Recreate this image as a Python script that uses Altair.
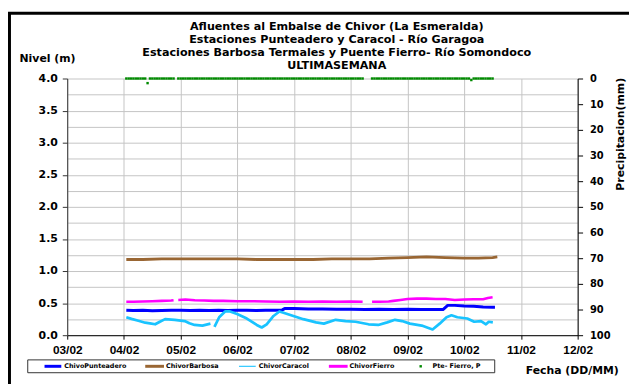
import altair as alt
import pandas as pd

# ---------------- data ----------------
DAY_TICKS = [3, 4, 5, 6, 7, 8, 9, 10, 11, 12]
LEVEL_TICKS = [0.0, 0.25, 0.5, 0.75, 1.0, 1.25, 1.5, 1.75, 2.0, 2.25, 2.5, 2.75,
               3.0, 3.25, 3.5, 3.75, 4.0]
PRECIP_TICKS = [0, 10, 20, 30, 40, 50, 60, 70, 80, 90, 100]

TITLE_LINES = [
    "Afluentes al Embalse de Chivor (La Esmeralda)",
    "Estaciones Punteadero y Caracol - Río Garagoa",
    "Estaciones Barbosa Termales y Puente Fierro- Río Somondoco",
    "ULTIMASEMANA",
]
SERIES = ["ChivoPunteadero", "ChivorBarbosa", "ChivorCaracol", "ChivorFierro"]
PRECIP_NAME = "Pte- Fierro, P"

# hours counted from 04/02 00:00
PUNT_H = [1, 4, 8, 12, 16, 20, 24, 28, 32, 36, 40, 44, 48, 52, 56, 60, 64, 67, 68,
          72, 78, 84, 90, 96, 102, 108, 114, 120, 126, 132, 135, 137, 140, 144,
          148, 152, 156, 157]
PUNT_V = [0.39, 0.385, 0.39, 0.38, 0.385, 0.39, 0.39, 0.385, 0.39, 0.385, 0.39,
          0.385, 0.39, 0.39, 0.385, 0.39, 0.39, 0.395, 0.415, 0.415, 0.41, 0.41,
          0.405, 0.405, 0.40, 0.405, 0.40, 0.405, 0.40, 0.40, 0.40, 0.465, 0.465,
          0.455, 0.45, 0.44, 0.435, 0.435]

BARB_H = [1, 8, 16, 24, 32, 40, 48, 56, 64, 72, 80, 88, 96, 104, 112, 120, 128,
          136, 144, 150, 156, 158]
BARB_V = [1.18, 1.18, 1.19, 1.19, 1.19, 1.19, 1.19, 1.18, 1.18, 1.18, 1.18, 1.19,
          1.19, 1.19, 1.20, 1.21, 1.22, 1.21, 1.20, 1.20, 1.21, 1.22]

CARA_H1 = [1, 3.2, 6.1, 9, 11, 13.2, 15.2, 17.4, 21.5, 25.7, 27.7, 29.9, 33.2, 36.6]
CARA_V1 = [0.28, 0.255, 0.225, 0.195, 0.185, 0.17, 0.21, 0.25, 0.24, 0.22, 0.185,
           0.16, 0.15, 0.18]
CARA_H2 = [38.3, 40.3, 42.8, 44.9, 47.9, 52.0, 56.2, 58.3, 60.4, 63.3, 65.8, 67.5,
           71.7, 75.9, 81.3, 84.6, 89.6, 93.8, 98.0, 103.5, 107.6, 111.4, 114.7,
           117.7, 121.0, 126.0, 130.6, 133.6, 136.5, 138.6, 141.1, 145.3, 148.2,
           151.1, 153.2, 154.4, 156.1]
CARA_V2 = [0.13, 0.28, 0.37, 0.37, 0.33, 0.26, 0.16, 0.12, 0.17, 0.30, 0.37, 0.35,
           0.30, 0.25, 0.20, 0.18, 0.24, 0.22, 0.21, 0.17, 0.16, 0.20, 0.24, 0.22,
           0.18, 0.15, 0.09, 0.18, 0.28, 0.31, 0.28, 0.26, 0.21, 0.22, 0.17, 0.21,
           0.20]

FIER_H1 = [1, 4, 8, 12, 16, 20, 21]
FIER_V1 = [0.52, 0.52, 0.525, 0.53, 0.535, 0.54, 0.545]
FIER_H2 = [23, 26, 30, 34, 38, 42, 48, 54, 60, 66, 72, 78, 84, 90, 96, 101]
FIER_V2 = [0.55, 0.555, 0.545, 0.54, 0.535, 0.535, 0.53, 0.53, 0.525, 0.52, 0.525,
           0.52, 0.525, 0.52, 0.525, 0.52]
FIER_H3 = [105, 108, 112, 114, 117, 120, 124, 128, 132, 136, 140, 144, 148, 152,
           154, 156]
FIER_V3 = [0.52, 0.52, 0.525, 0.535, 0.55, 0.565, 0.57, 0.57, 0.565, 0.565, 0.55,
           0.555, 0.56, 0.56, 0.58, 0.59]

# hourly precipitation (mm), hours 1..156 from 04/02 00:00; None = missing
PRECIP_V = [
    0, 0, 0, 0, 0, 0, 0, 0, 0, 1.8, 0, 0,
    0, 0, 0, 0, 0, 0, 0, 0, 0, None, 0, 0,
    0, 0, 0, 0, 0, 0, 0, 0, 0, 0, 0, 0,
    0, 0, 0, 0, 0, 0, 0, 0, 0, 0, 0, 0,
    0, 0, 0, 0, 0, 0, 0, 0, 0, 0, 0, 0,
    0, 0, 0, 0, 0, 0, 0, 0, 0, 0, 0, 0,
    0, 0, 0, 0, 0, 0, 0, 0, 0, 0, 0, 0,
    0, 0, 0, 0, 0, 0, 0, 0, 0, 0, 0, 0,
    0, 0, 0, 0, 0, None, None, None, 0, 0, 0, 0,
    0, 0, 0, 0, 0, 0, 0, 0, 0, 0, 0, 0,
    0, 0, 0, 0, 0, 0, 0, 0, 0, 0, 0, 0,
    0, 0, 0, 0, 0, 0, 0, 0, 0, 0, 0, 0,
    0, 0, 0.6, 0, 0, 0, 0, 0, 0, 0, 0, 0,
]

# ---------------- tables ----------------
COLORS = ["#0000ff", "#996633", "#19c3ff", "#ff00ff"]
WIDTHS = [3, 2.6, 1, 3]
segments = [
    ("ChivoPunteadero", PUNT_H, PUNT_V),
    ("ChivorBarbosa", BARB_H, BARB_V),
    ("ChivorCaracol", CARA_H1, CARA_V1),
    ("ChivorCaracol", CARA_H2, CARA_V2),
    ("ChivorFierro", FIER_H1, FIER_V1),
    ("ChivorFierro", FIER_H2, FIER_V2),
    ("ChivorFierro", FIER_H3, FIER_V3),
]
rows = []
for k, (name, hs, vs) in enumerate(segments):
    for h, v in zip(hs, vs):
        rows.append({"series": name, "seg": k, "t": 4 + h / 24.0, "v": v})
lines_df = pd.DataFrame(rows)

prows = []
for i, p in enumerate(PRECIP_V):
    if p is not None:
        prows.append({"t": 4 + (i + 1) / 24.0, "p": p})
precip_df = pd.DataFrame(prows)

FONT = "DejaVu Sans"

x_enc = alt.X(
    "t:Q",
    scale=alt.Scale(domain=[3, 12], nice=False, zero=False),
    axis=alt.Axis(
        values=DAY_TICKS,
        labelExpr="(datum.value < 10 ? '0' : '') + datum.value + '/02'",
        grid=True, gridColor="#c4c4c4", gridWidth=1,
        domainColor="#000000", tickColor="#000000", tickSize=4,
        labelFont="Liberation Sans", labelFontWeight="bold", labelFontSize=12,
        labelColor="#000000", labelBaseline="middle", labelPadding=11,
        labelFlush=False, labelOverlap=False,
        title="Fecha (DD/MM)", titleFont=FONT, titleFontWeight="bold",
        titleFontSize=11, titleColor="#000000", titleX=511, titleY=36,
        titleAlign="center", titleBaseline="middle",
    ),
)

lines = alt.Chart(lines_df).mark_line(strokeCap="butt", strokeJoin="round").encode(
    x=x_enc,
    y=alt.Y(
        "v:Q",
        scale=alt.Scale(domain=[0, 4], nice=False),
        axis=alt.Axis(
            values=LEVEL_TICKS,
            labelExpr="datum.value % 0.5 === 0 ? format(datum.value, '.1f') : ''",
            grid=True, gridColor="#c4c4c4", gridWidth=1,
            domainColor="#333333", tickColor="#333333", tickSize=5,
            tickOpacity={"condition": {"test": "datum.value % 0.5 !== 0", "value": 0}, "value": 1},
            labelFont=FONT, labelFontWeight="bold", labelFontSize=11,
            labelColor="#000000", labelPadding=5, labelOverlap=False, labelFlush=False,
            title="Nivel (m)", titleFont=FONT, titleFontWeight="bold", titleFontSize=11,
            titleColor="#000000", titleAngle=0, titleX=-20.5, titleY=-20,
            titleAlign="center", titleBaseline="middle",
        ),
    ),
    color=alt.Color("series:N", scale=alt.Scale(domain=SERIES, range=COLORS), legend=None),
    strokeWidth=alt.StrokeWidth("series:N", scale=alt.Scale(domain=SERIES, range=WIDTHS), legend=None),
    detail="seg:N",
    order="t:Q",
)

precip = alt.Chart(precip_df).mark_square(size=6, color="#008a00", opacity=1).encode(
    x=x_enc,
    y=alt.Y(
        "p:Q",
        scale=alt.Scale(domain=[0, 100], reverse=True, nice=False),
        axis=alt.Axis(
            orient="right", values=PRECIP_TICKS, grid=False,
            domainColor="#000000", tickColor="#000000", tickSize=5,
            labelFont=FONT, labelFontWeight="bold", labelFontSize=10,
            labelColor="#000000", labelPadding=7, labelOverlap=False, labelFlush=False,
            title="Precipitacion(mm)", titleFont=FONT, titleFontWeight="bold",
            titleFontSize=11, titleColor="#000000", titleAngle=270,
            titleX=43, titleY=56, titleAlign="center", titleBaseline="middle",
        ),
    ),
)

one = alt.Data(values=[{}])


def text_at(x, y, s, size, align="center", font=FONT):
    return alt.Chart(one).mark_text(
        align=align, baseline="middle", font=font, fontSize=size,
        fontWeight="bold", color="#000000",
    ).encode(x=alt.value(x), y=alt.value(y), text=alt.value(s))


def sample(x1, x2, y, color, w):
    return alt.Chart(one).mark_rule(color=color, strokeWidth=w).encode(
        x=alt.value(x1), x2=alt.value(x2), y=alt.value(y))


frame = alt.Chart(one).mark_rect(filled=False, stroke="#000000", strokeWidth=3).encode(
    x=alt.value(-58.5), x2=alt.value(640), y=alt.value(-66), y2=alt.value(420))

titles = [text_at(273, y, s, 11.3) for y, s in zip([-52, -39, -25.5, -13], TITLE_LINES)]

legend_box = alt.Chart(one).mark_rect(fill="#ffffff", stroke="#333333", strokeWidth=1).encode(
    x=alt.value(-40), x2=alt.value(433), y=alt.value(285), y2=alt.value(298))
LEG_Y = 291.5
legend = [legend_box]
for (x1, x2, tx), name, col, w in zip(
        [(-23, -6, -3), (79, 98, 100), (174, 191, 194), (265, 284, 286)],
        SERIES, COLORS, [3, 3, 1.1, 3]):
    legend.append(sample(x1, x2, LEG_Y, col, w))
    legend.append(text_at(tx, LEG_Y, name, 6.5, align="left"))
legend.append(alt.Chart(one).mark_square(size=6, color="#008a00", opacity=1).encode(
    x=alt.value(358), y=alt.value(LEG_Y)))
legend.append(text_at(370, LEG_Y, PRECIP_NAME, 6.5, align="left"))

chart = alt.layer(frame, *titles, lines, precip, *legend).resolve_scale(
    y="independent"
).properties(
    width=517, height=260,
    padding={"left": 60, "top": 69, "right": 52, "bottom": 47},
    autosize=alt.AutoSizeParams(type="none"),
    background="#ffffff",
).configure_view(strokeOpacity=0)

chart.save("out.html", embed_options={"renderer": "svg", "actions": False})
